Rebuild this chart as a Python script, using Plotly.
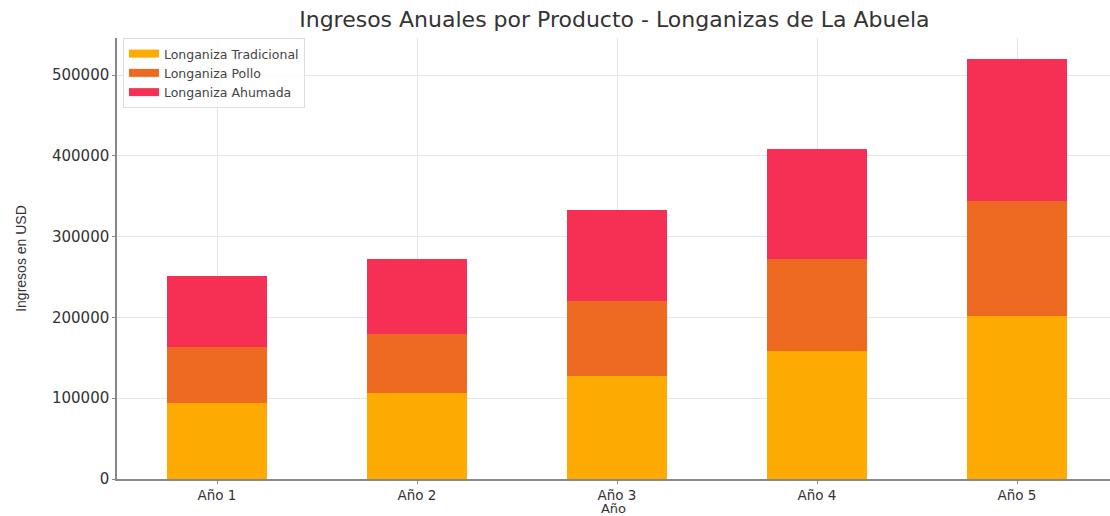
import plotly.graph_objects as go

years = ["Año 1", "Año 2", "Año 3", "Año 4", "Año 5"]
tradicional = [94000, 106000, 128000, 159000, 202000]
pollo = [69000, 74000, 92000, 113000, 142000]
ahumada = [88000, 92000, 113000, 137000, 176000]

series_names = ["Longaniza Tradicional", "Longaniza Pollo", "Longaniza Ahumada"]
colors = ["#FDAA02", "#EF6A21", "#F62F55"]
y_ticks = [0, 100000, 200000, 300000, 400000, 500000]

fig = go.Figure()
for name, vals, col in zip(series_names, [tradicional, pollo, ahumada], colors):
    fig.add_trace(go.Bar(x=years, y=vals, name=name, marker=dict(color=col, line=dict(width=0)),
                         width=0.5, showlegend=False, legendgroup=name))
# legend-only entries drawn as wide rectangular patches
for name, col in zip(series_names, colors):
    fig.add_trace(go.Scatter(x=[None], y=[None], mode="lines", name=name, legendgroup=name,
                             line=dict(color=col, width=8)))

fig.update_layout(
    width=1110, height=516,
    barmode="stack",
    plot_bgcolor="white", paper_bgcolor="white",
    margin=dict(l=117, r=0, t=38, b=37),
    font=dict(family="DejaVu Sans", color="#333333", size=13),
    title=dict(text="Ingresos Anuales por Producto - Longanizas de La Abuela",
               x=0.5535, xanchor="center", y=0.962, yanchor="middle",
               font=dict(size=22, color="#333333")),
    legend=dict(x=0.006, y=1.0, xanchor="left", yanchor="top", traceorder="normal",
                bgcolor="rgba(255,255,255,0.8)", bordercolor="#dddddd", borderwidth=1,
                font=dict(size=12.5, color="#444444"), tracegroupgap=0,
                itemwidth=30),
    xaxis=dict(title=dict(text="Año", standoff=7, font=dict(size=13)),
               automargin=False,
               range=[-0.5, 4.465], showgrid=True, gridcolor="#e6e6e6",
               showline=True, linecolor="#888888", linewidth=1.5,
               ticks="outside", ticklen=3, tickcolor="#888888",
               tickfont=dict(size=13.5)),
    yaxis=dict(title=dict(text="Ingresos en USD", standoff=22,
                          font=dict(size=14, family="Liberation Sans")),
               automargin=False,
               range=[0, 546000], tickvals=y_ticks, ticktext=[str(v) for v in y_ticks],
               showgrid=True, gridcolor="#e6e6e6",
               showline=True, linecolor="#888888", linewidth=1.5,
               ticks="outside", ticklen=3, tickcolor="#888888",
               tickfont=dict(size=15), zeroline=False),
)

fig.write_html("out.html")
